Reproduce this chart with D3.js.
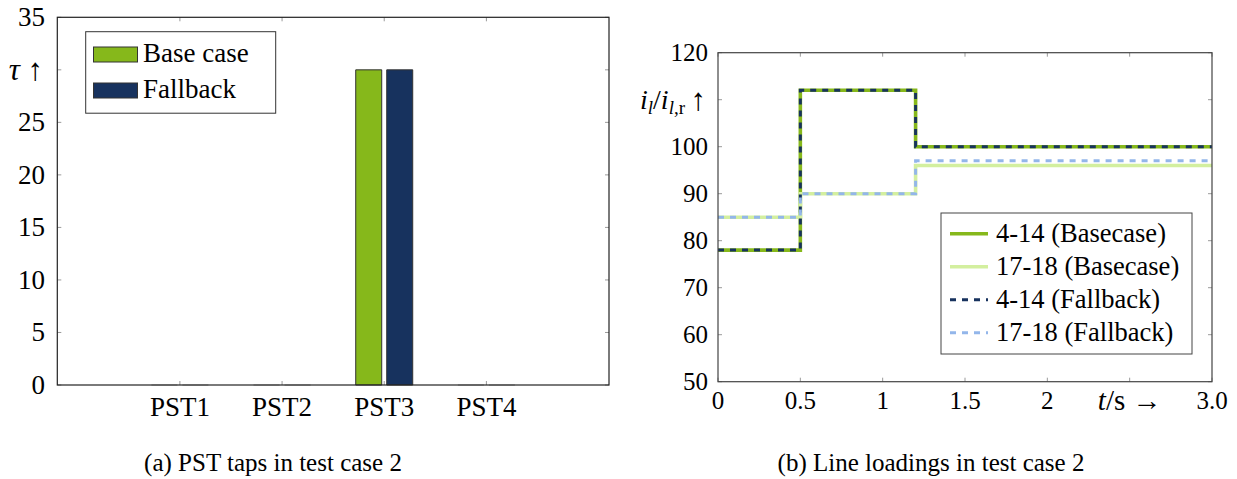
<!DOCTYPE html>
<html>
<head>
<meta charset="utf-8">
<script src="https://cdn.jsdelivr.net/npm/d3@7"></script>
<style>
  html, body { margin: 0; padding: 0; background: #fff; }
  svg, svg text { font-family: 'Liberation Serif', 'Times New Roman', Times, 'DejaVu Serif', serif; }
</style>
</head>
<body>
<svg id="chart" width="1237" height="479"></svg>
<script>
// ---------- data ----------
const categories = ["PST1", "PST2", "PST3", "PST4"];
const baseCaseTaps = [0, 0, 30, 0];
const fallbackTaps = [0, 0, 30, 0];
const tauTicks = [0, 5, 10, 15, 20, 25, 30, 35];

const timePoints = [0, 0.5, 1.2, 3.0];
const line414Base = [78, 112, 100, 100];
const line1718Base = [85, 90, 96, 96];
const line414Fallback = [78, 112, 100, 100];
const line1718Fallback = [85, 90, 97, 97];
const loadingTicks = [50, 60, 70, 80, 90, 100, 110, 120];
const timeTicks = [0, 0.5, 1, 1.5, 2, 2.5, 3.0];
const timeTickLabels = ["0", "0.5", "1", "1.5", "2", "", "3.0"];

const FONT = "'Liberation Serif', 'Times New Roman', Times, 'DejaVu Serif', serif";
const svg = d3.select("#chart").attr("font-family", FONT);
const tickCol = "#9a9a9a";
const txt = "#000";
const green = "#86b81b", navy = "#17325e", lightGreen = "#d3ef9f", lightBlue = "#93b6ea";

// ---------- left chart ----------
const xL = d3.scaleLinear().domain([-0.2, 5.2]).range([57.3, 609]);
const yL = d3.scaleLinear().domain([0, 35]).range([385, 17.3]);
const gL = svg.append("g");

const tl = 4;
tauTicks.forEach(d => {
  gL.append("line").attr("x1", xL.range()[0]).attr("x2", xL.range()[0] + tl)
    .attr("y1", yL(d)).attr("y2", yL(d)).attr("stroke", tickCol);
  gL.append("line").attr("x1", xL.range()[1]).attr("x2", xL.range()[1] - tl)
    .attr("y1", yL(d)).attr("y2", yL(d)).attr("stroke", tickCol);
});
categories.forEach((c, i) => {
  const x = xL(i + 1);
  gL.append("line").attr("x1", x).attr("x2", x).attr("y1", yL(0)).attr("y2", yL(0) - tl).attr("stroke", tickCol);
  gL.append("line").attr("x1", x).attr("x2", x).attr("y1", yL(35)).attr("y2", yL(35) + tl).attr("stroke", tickCol);
});

// bars
const barW = 26, barOff = 15.5;
function barPath(cx, v) {
  const x0 = cx - barW / 2, x1 = cx + barW / 2;
  return `M${x0},${yL(0)}V${yL(v)}H${x1}V${yL(0)}Z`;
}
[[baseCaseTaps, green, -barOff], [fallbackTaps, navy, barOff]].forEach(([vals, col, off]) => {
  gL.selectAll(null).data(vals).join("path")
    .attr("d", (v, i) => barPath(xL(i + 1) + off, v))
    .attr("fill", col)
    .attr("stroke", "#333")
    .attr("stroke-opacity", v => v === 0 ? 0.25 : 1)
    .attr("stroke-width", 1);
});

gL.append("rect").attr("x", xL.range()[0]).attr("y", yL(35))
  .attr("width", xL.range()[1] - xL.range()[0]).attr("height", yL(0) - yL(35))
  .attr("fill", "none").attr("stroke", "#222").attr("stroke-width", 1.2);

gL.selectAll(".ylab").data(tauTicks.filter(d => d !== 30)).join("text")
  .attr("x", 45).attr("y", d => yL(d)).attr("dy", "0.33em")
  .attr("text-anchor", "end").attr("font-size", 27).attr("fill", txt).text(d => d);
const tauLabel = gL.append("text").attr("x", 43).attr("y", yL(30)).attr("dy", "0.33em")
  .attr("text-anchor", "end").attr("font-size", 31).attr("fill", txt);
tauLabel.append("tspan").attr("font-style", "italic").text("τ");
tauLabel.append("tspan").text(" ↑");

gL.selectAll(".xlab").data(categories).join("text")
  .attr("x", (d, i) => xL(i + 1)).attr("y", 416)
  .attr("text-anchor", "middle").attr("font-size", 27).attr("fill", txt).text(d => d);

const legL = gL.append("g");
legL.append("rect").attr("x", 85.7).attr("y", 31.7).attr("width", 190).attr("height", 81.5)
  .attr("fill", "#fff").attr("stroke", "#333").attr("stroke-width", 1);
[["Base case", green, 47, 62.3], ["Fallback", navy, 83, 98.3]].forEach(([lab, col, sy, by]) => {
  legL.append("rect").attr("x", 93.5).attr("y", sy).attr("width", 44).attr("height", 15)
    .attr("fill", col).attr("stroke", "#333").attr("stroke-width", 1);
  legL.append("text").attr("x", 143).attr("y", by).attr("font-size", 27).attr("fill", txt).text(lab);
});

svg.append("text").attr("x", 273).attr("y", 471).attr("text-anchor", "middle")
  .attr("font-size", 25).attr("fill", txt).text("(a) PST taps in test case 2");

// ---------- right chart ----------
const xR = d3.scaleLinear().domain([0, 3]).range([718, 1212]);
const yR = d3.scaleLinear().domain([50, 120]).range([381.7, 52.7]);
const gR = svg.append("g");

loadingTicks.forEach(d => {
  gR.append("line").attr("x1", xR(0)).attr("x2", xR(0) + tl).attr("y1", yR(d)).attr("y2", yR(d)).attr("stroke", tickCol);
  gR.append("line").attr("x1", xR(3)).attr("x2", xR(3) - tl).attr("y1", yR(d)).attr("y2", yR(d)).attr("stroke", tickCol);
});
timeTicks.forEach(d => {
  gR.append("line").attr("x1", xR(d)).attr("x2", xR(d)).attr("y1", yR(50)).attr("y2", yR(50) - tl).attr("stroke", tickCol);
  gR.append("line").attr("x1", xR(d)).attr("x2", xR(d)).attr("y1", yR(120)).attr("y2", yR(120) + tl).attr("stroke", tickCol);
});

const lineGen = d3.line().x(d => xR(d[0])).y(d => yR(d[1])).curve(d3.curveStepAfter);
const series = [
  {name: "4-14 (Basecase)", vals: line414Base, col: green, w: 3.6, dash: null},
  {name: "17-18 (Basecase)", vals: line1718Base, col: lightGreen, w: 3.6, dash: null},
  {name: "4-14 (Fallback)", vals: line414Fallback, col: navy, w: 3, dash: "6,6"},
  {name: "17-18 (Fallback)", vals: line1718Fallback, col: lightBlue, w: 3, dash: "6,6"}
];
series.forEach(s => {
  gR.append("path").attr("d", lineGen(timePoints.map((t, i) => [t, s.vals[i]])))
    .attr("fill", "none").attr("stroke", s.col).attr("stroke-width", s.w)
    .attr("stroke-dasharray", s.dash);
});

gR.append("rect").attr("x", xR(0)).attr("y", yR(120))
  .attr("width", xR(3) - xR(0)).attr("height", yR(50) - yR(120))
  .attr("fill", "none").attr("stroke", "#444").attr("stroke-width", 1.2);

gR.selectAll(".ylabR").data(loadingTicks.filter(d => d !== 110)).join("text")
  .attr("x", 708).attr("y", d => yR(d)).attr("dy", "0.33em")
  .attr("text-anchor", "end").attr("font-size", 25).attr("fill", txt).text(d => d);
const iLab = gR.append("text").attr("x", 685).attr("y", yR(110)).attr("dy", "0.33em")
  .attr("text-anchor", "end").attr("font-size", 28).attr("fill", txt);
iLab.append("tspan").attr("font-style", "italic").text("i");
iLab.append("tspan").attr("font-style", "italic").attr("font-size", 19).attr("dy", 5).text("l");
iLab.append("tspan").attr("dy", -5).text("/");
iLab.append("tspan").attr("font-style", "italic").text("i");
iLab.append("tspan").attr("font-style", "italic").attr("font-size", 19).attr("dy", 5).text("l");
iLab.append("tspan").attr("font-size", 19).text(",r");
gR.append("text").attr("x", 706).attr("y", yR(110)).attr("dy", "0.33em")
  .attr("text-anchor", "end").attr("font-size", 31).attr("fill", txt).text("↑");

gR.selectAll(".xlabR").data(timeTicks).join("text")
  .attr("x", d => xR(d)).attr("y", 409).attr("text-anchor", "middle")
  .attr("font-size", 25).attr("fill", txt).text((d, i) => timeTickLabels[i]);
const tLab = gR.append("text").attr("x", xR(2.5)).attr("y", 410).attr("text-anchor", "middle")
  .attr("font-size", 29).attr("fill", txt);
tLab.append("tspan").attr("font-style", "italic").text("t");
tLab.append("tspan").text("/s →");

const legR = gR.append("g");
legR.append("rect").attr("x", 941).attr("y", 213).attr("width", 251).attr("height", 141)
  .attr("fill", "#fff").attr("stroke", "#444").attr("stroke-width", 1);
series.forEach((s, i) => {
  const cy = 233.7 + i * 33;
  legR.append("line").attr("x1", 950).attr("x2", 988).attr("y1", cy).attr("y2", cy)
    .attr("stroke", s.col).attr("stroke-width", s.w).attr("stroke-dasharray", s.dash);
  legR.append("text").attr("x", 996).attr("y", cy).attr("dy", "0.33em")
    .attr("font-size", 26.5).attr("fill", txt).text(s.name);
});

svg.append("text").attr("x", 931).attr("y", 471).attr("text-anchor", "middle")
  .attr("font-size", 25).attr("fill", txt).text("(b) Line loadings in test case 2");
</script>
</body>
</html>
